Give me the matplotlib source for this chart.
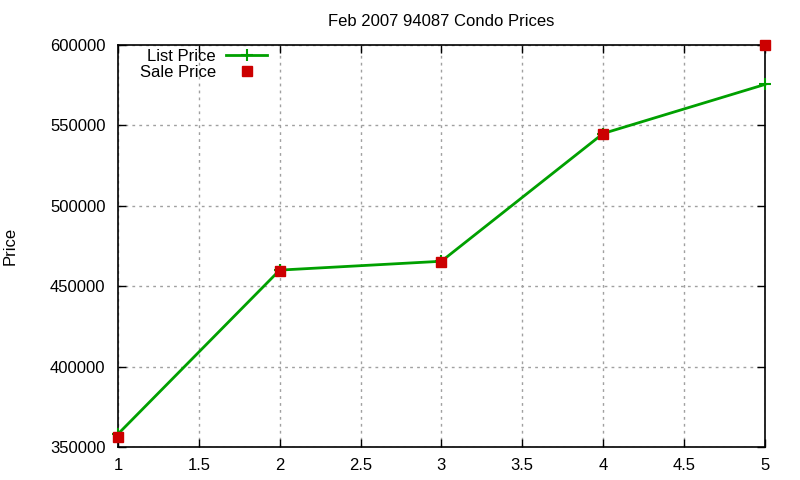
import matplotlib
matplotlib.use("Agg")
import matplotlib.pyplot as plt

x_vals = [1, 2, 3, 4, 5]
list_price = [358000, 460000, 465500, 545000, 575500]
sale_price = [356000, 459700, 465000, 545000, 600000]
x_ticks = [1, 1.5, 2, 2.5, 3, 3.5, 4, 4.5, 5]
y_ticks = [350000, 400000, 450000, 500000, 550000, 600000]

plt.rcParams['font.family'] = ['Liberation Sans', 'DejaVu Sans']
plt.rcParams['font.size'] = 12

fig = plt.figure(figsize=(8, 4.8), dpi=100)
ax = fig.add_axes([0.1475, 0.069, 0.8085, 0.837])

ax.plot(x_vals, list_price, color='#00a000', lw=2, marker='+', ms=9, mew=1.5,
        label='List Price', clip_on=False, zorder=3)
ax.plot(x_vals, sale_price, ls='none', marker='s', ms=6.5, color='#cc0000',
        label='Sale Price', clip_on=False, zorder=4)

ax.set_xlim(1, 5)
ax.set_ylim(350000, 600000)
ax.set_xticks(x_ticks)
ax.set_xticklabels([('%g' % v) for v in x_ticks])
ax.set_yticks(y_ticks)
ax.set_yticklabels([str(v) for v in y_ticks])
ax.tick_params(direction='in', top=True, right=True, length=6, width=1)
ax.tick_params(axis='x', pad=8)
ax.tick_params(axis='y', pad=9)
ax.grid(True, color='#a0a0a0', ls=(0, (2, 3)), lw=1)
for s in ax.spines.values():
    s.set_linewidth(1.2)

ax.set_title('Feb 2007 94087 Condo Prices', fontsize=12, pad=14)
ax.set_ylabel('Price', fontsize=12)
ax.yaxis.set_label_coords(-0.155, 0.5)

leg = ax.legend(loc='upper left', bbox_to_anchor=(0.018, 1.015), frameon=False,
                markerfirst=False, handlelength=2.5, handletextpad=0.6,
                labelspacing=0.05, borderaxespad=0.2, fontsize=12)
for t in leg.get_texts():
    t.set_ha('right')

fig.savefig('out.png', dpi=100)
